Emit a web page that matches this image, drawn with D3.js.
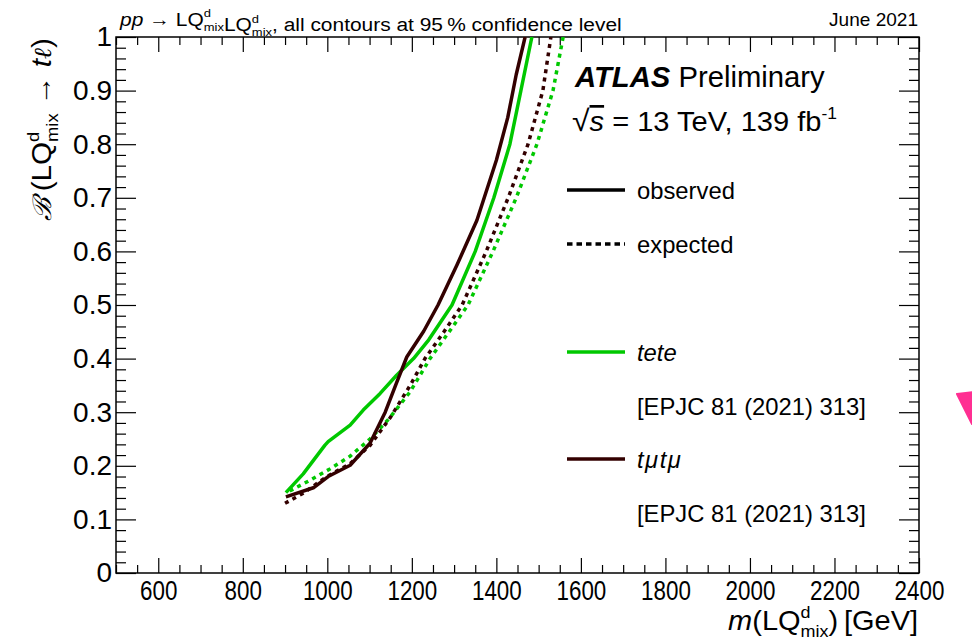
<!DOCTYPE html>
<html>
<head>
<meta charset="utf-8">
<script src="https://cdn.jsdelivr.net/npm/d3@7"></script>
<style>
  body { margin: 0; background: #fff; }
  svg { display: block; }
  text { font-family: "Liberation Sans", Arial, Helvetica, sans-serif; fill: #000; }
</style>
</head>
<body>
<svg id="chart" width="972" height="642"></svg>
<script>
// Axis ticks
const xMajorTicks = [600, 800, 1000, 1200, 1400, 1600, 1800, 2000, 2200, 2400];
const xTickLabels = ["600", "800", "1000", "1200", "1400", "1600", "1800", "2000", "2200", "2400"];
const yMajorTicks = [0, 0.1, 0.2, 0.3, 0.4, 0.5, 0.6, 0.7, 0.8, 0.9, 1];
const yTickLabels = ["0", "0.1", "0.2", "0.3", "0.4", "0.5", "0.6", "0.7", "0.8", "0.9", "1"];

// Exclusion contours: [m(LQ) in GeV, branching ratio]
const teteObserved = [[902,0.150],[943,0.185],[994,0.238],[1002,0.245],[1054,0.276],[1085,0.304],[1125,0.335],[1164,0.369],[1204,0.400],[1240,0.435],[1295,0.500],[1350,0.600],[1394,0.700],[1432,0.800],[1458,0.900],[1484,1.0]];
const teteExpected = [[911,0.153],[959,0.173],[1006,0.194],[1054,0.218],[1101,0.250],[1145,0.287],[1195,0.337],[1243,0.400],[1290,0.452],[1333,0.500],[1392,0.600],[1447,0.700],[1496,0.800],[1534,0.900],[1558,1.0]];
const tmtmObserved = [[902,0.142],[967,0.159],[1002,0.180],[1054,0.201],[1101,0.242],[1137,0.300],[1164,0.355],[1188,0.403],[1228,0.451],[1262,0.500],[1307,0.575],[1354,0.658],[1400,0.770],[1427,0.850],[1447,0.930],[1468,1.0]];
const tmtmExpected = [[900,0.130],[943,0.149],[999,0.180],[1054,0.204],[1101,0.238],[1149,0.290],[1196,0.350],[1231,0.400],[1276,0.450],[1319,0.500],[1376,0.600],[1428,0.700],[1475,0.800],[1510,0.900],[1529,1.0]];

const GREEN = "#00c800";
const BROWN = "#330000";

const svg = d3.select("#chart");
const L = 116, R = 919, T = 37, B = 573;
const x = d3.scaleLinear().domain([500, 2400]).range([L, R]);
const y = d3.scaleLinear().domain([0, 1]).range([B, T]);

// Horizontal squeeze of a text group so that it spans a given width
function fitWidth(g, target) {
  const w = g.node().getBBox().width;
  return w > 0 ? target / w : 1;
}

// ---- Axes: ticks on all four sides, pointing inwards ----
const xMinor = d3.range(500, 2401, 50).filter(v => v % 200 !== 0);
const yMinor = d3.range(0, 51, 1).map(v => v / 50).filter(v => Math.round(v * 50) % 5 !== 0);

function tickStyle(g) {
  g.select(".domain").remove();
  g.selectAll("line").attr("stroke", "#000").attr("stroke-width", 1.2);
}

// bottom
svg.append("g").attr("transform", `translate(0,${B})`)
  .call(d3.axisBottom(x).tickValues(xMinor).tickSize(-8).tickFormat(""))
  .call(tickStyle);
const xAxisG = svg.append("g").attr("transform", `translate(0,${B})`)
  .call(d3.axisBottom(x).tickValues(xMajorTicks).tickSize(-15).tickPadding(7)
    .tickFormat((d, i) => xTickLabels[i]))
  .call(tickStyle);
xAxisG.selectAll("text").attr("font-size", 28).attr("font-family", null)
  .attr("transform", "scale(0.8,1)");
// top
svg.append("g").attr("transform", `translate(0,${T})`)
  .call(d3.axisTop(x).tickValues(xMinor).tickSize(-8).tickFormat(""))
  .call(tickStyle);
svg.append("g").attr("transform", `translate(0,${T})`)
  .call(d3.axisTop(x).tickValues(xMajorTicks).tickSize(-15).tickFormat(""))
  .call(tickStyle);
// left
svg.append("g").attr("transform", `translate(${L},0)`)
  .call(d3.axisLeft(y).tickValues(yMinor).tickSize(-10).tickFormat(""))
  .call(tickStyle);
const yAxisG = svg.append("g").attr("transform", `translate(${L},0)`)
  .call(d3.axisLeft(y).tickValues(yMajorTicks).tickSize(-20).tickPadding(4)
    .tickFormat((d, i) => yTickLabels[i]))
  .call(tickStyle);
yAxisG.selectAll("text").attr("font-size", 28).attr("font-family", null);
// right
svg.append("g").attr("transform", `translate(${R},0)`)
  .call(d3.axisRight(y).tickValues(yMinor).tickSize(-10).tickFormat(""))
  .call(tickStyle);
svg.append("g").attr("transform", `translate(${R},0)`)
  .call(d3.axisRight(y).tickValues(yMajorTicks).tickSize(-20).tickFormat(""))
  .call(tickStyle);

// frame
svg.append("rect").attr("x", L).attr("y", T).attr("width", R - L).attr("height", B - T)
  .attr("fill", "none").attr("stroke", "#000").attr("stroke-width", 1.5);

// ---- Contours ----
svg.append("clipPath").attr("id", "plotArea")
  .append("rect").attr("x", L).attr("y", T).attr("width", R - L).attr("height", B - T);
const line = d3.line().x(d => x(d[0])).y(d => y(d[1]));
const curves = [
  { data: teteExpected, color: GREEN, dash: "4,4.5" },
  { data: tmtmExpected, color: BROWN, dash: "4,4.5" },
  { data: teteObserved, color: GREEN, dash: null },
  { data: tmtmObserved, color: BROWN, dash: null }
];
const plot = svg.append("g").attr("clip-path", "url(#plotArea)");
curves.forEach(c => {
  plot.append("path").attr("d", line(c.data))
    .attr("fill", "none").attr("stroke", c.color).attr("stroke-width", 3.5)
    .attr("stroke-linejoin", "round")
    .attr("stroke-dasharray", c.dash);
});

// ---- Text helpers ----
// adds "LQ" with stacked superscript "d" and subscript "mix"
function addLQ(t, size) {
  const s = size * 0.62;
  t.append("tspan").text("LQ");
  t.append("tspan").attr("font-size", s).attr("dy", -size * 0.45).text("d");
  t.append("tspan").attr("font-size", s).attr("dx", -0.556 * s).attr("dy", size * 0.72).text("mix");
  return -size * 0.27; // dy needed to return to baseline
}

// title line
{
  const size = 19;
  const g = svg.append("g");
  const t = g.append("text").attr("font-size", size);
  t.append("tspan").attr("font-style", "italic").text("pp");
  t.append("tspan").text(" \u2192 ");
  let back = addLQ(t, size);
  t.append("tspan").attr("dy", back).text("");
  back = addLQ(t, size);
  t.append("tspan").attr("dy", back).text(", all contours at 95\u2009% confidence level");
  const sx = fitWidth(g, 503);
  g.attr("transform", `translate(120,26) scale(${sx},1)`);
}
{
  const g = svg.append("g");
  g.append("text").attr("font-size", 19).attr("text-anchor", "end").text("June 2021");
  const sx = fitWidth(g, 89);
  g.attr("transform", `translate(918,26) scale(${sx},1)`);
}

// x axis title
{
  const size = 27;
  const g = svg.append("g");
  const t = g.append("text").attr("font-size", size).attr("text-anchor", "end");
  t.append("tspan").attr("font-style", "italic").text("m");
  t.append("tspan").text("(");
  const back = addLQ(t, size);
  t.append("tspan").attr("dy", back).text(")\u2009[GeV]");
  const sx = fitWidth(g, 190);
  g.attr("transform", `translate(918,630) scale(${sx},1)`);
}

// y axis title
{
  const size = 27;
  const g = svg.append("g");
  const t = g.append("text").attr("font-size", size).attr("text-anchor", "end");
  t.append("tspan").attr("font-family", "DejaVu Serif, serif").attr("font-style", "italic")
    .attr("font-weight", "normal").attr("font-size", size * 0.95).text("\u212C");
  t.append("tspan").attr("dx", 5).text("(");
  const back = addLQ(t, size);
  t.append("tspan").attr("dy", back).text(" \u2192 ");
  t.append("tspan").attr("font-style", "italic").text("t");
  t.append("tspan").attr("font-family", "DejaVu Serif, serif").attr("font-style", "italic")
    .attr("font-size", size * 0.9).text("\u2113");
  t.append("tspan").text(")");
  const sx = fitWidth(g, 182);
  g.attr("transform", `translate(51,38) rotate(-90) scale(${sx},1)`);
}

// ATLAS label
{
  const g = svg.append("g");
  const t = g.append("text").attr("font-size", 29.5);
  t.append("tspan").attr("font-weight", "bold").attr("font-style", "italic").text("ATLAS");
  t.append("tspan").text(" Preliminary");
  const sx = fitWidth(g, 251);
  g.attr("transform", `translate(575,87) scale(${sx},1)`);
}
{
  const size = 27;
  const g = svg.append("g");
  const t = g.append("text").attr("font-size", size);
  t.append("tspan").attr("font-size", size * 1.1).text("\u221A");
  t.append("tspan").attr("font-style", "italic").style("text-decoration", "overline").text("s");
  t.append("tspan").text(" = 13 TeV, 139 fb");
  t.append("tspan").attr("font-size", size * 0.6).attr("dy", -size * 0.45).text("-1");
  const sx = fitWidth(g, 265);
  g.attr("transform", `translate(572,131) scale(${sx},1)`);
}

// ---- Legend ----
const legendRows = [
  { y: 190, color: "#000", dash: null, label: "observed", italic: false },
  { y: 244, color: "#000", dash: "5.5,4", label: "expected", italic: false },
  { y: 352, color: GREEN, dash: null, label: "tete", italic: true },
  { y: 406, color: null, dash: null, label: "[EPJC 81 (2021) 313]", italic: false },
  { y: 459, color: BROWN, dash: null, label: "t\u03BCt\u03BC", italic: true },
  { y: 513, color: null, dash: null, label: "[EPJC 81 (2021) 313]", italic: false }
];
const lg = svg.append("g");
legendRows.forEach(r => {
  if (r.color) {
    lg.append("line").attr("x1", 567).attr("x2", 625).attr("y1", r.y).attr("y2", r.y)
      .attr("stroke", r.color).attr("stroke-width", 3.5).attr("stroke-dasharray", r.dash);
  }
  lg.append("text").attr("x", 637).attr("y", r.y + 9).attr("font-size", 23.8)
    .attr("font-style", r.italic ? "italic" : null)
    .attr("letter-spacing", r.label.startsWith("t\u03BC") ? 1.5 : null)
    .text(r.label);
});

// pink marker at the right edge
svg.append("path")
  .attr("d", "M957,394 L990,390 L972,424 Z")
  .attr("fill", "#ff2f92").attr("stroke", "#ff2f92").attr("stroke-width", 2)
  .attr("stroke-linejoin", "round");
</script>
</body>
</html>
